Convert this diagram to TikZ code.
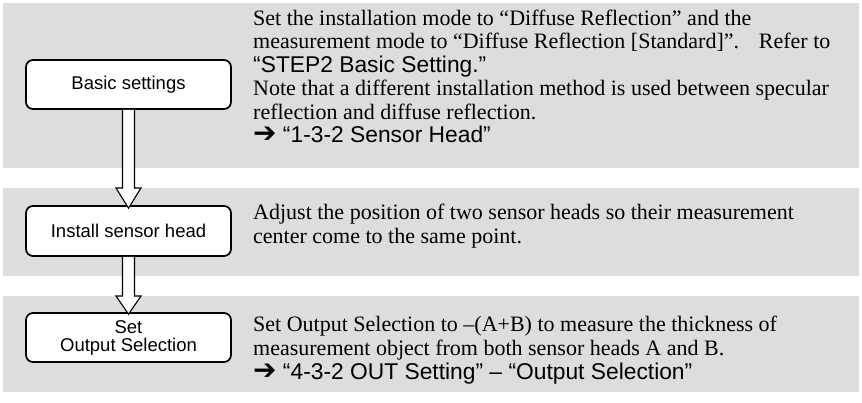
\documentclass[tikz,border=0pt]{standalone}
\usepackage{fontspec}
\setmainfont{Liberation Serif}
\newfontfamily\arialf{Liberation Sans}
\newfontfamily\symf{DejaVu Sans}
\usetikzlibrary{shapes.arrows}
\definecolor{panelgray}{RGB}{221,221,221}
\tikzset{
  panel/.style={fill=panelgray, draw=none},
  stepbox/.style={draw=black, line width=1.7pt, rounded corners=7pt, fill=white,
    minimum width=205pt, align=center, inner sep=0pt,
    font=\arialf\fontsize{18.5}{18}\selectfont},
  bodyline/.style={anchor=base west, inner sep=0pt, font=\fontsize{22}{24}\selectfont},
  refline/.style={anchor=base west, inner sep=0pt, font=\arialf\fontsize{22.8}{24}\selectfont},
  flowarrow/.style={draw=black, line width=1.1pt, fill=white, line join=miter},
}
\newcommand{\harrow}{{\symf\fontsize{28}{28}\selectfont ➔}}
\begin{document}
\begin{tikzpicture}[x=1pt,y=-1pt]
\useasboundingbox (0,0) rectangle (862,402);
% panels
\fill[panel] (3,3) rectangle (859,168);
\fill[panel] (3,188) rectangle (859,276);
\fill[panel] (3,296) rectangle (859,392);
% boxes
\node[stepbox, minimum height=49pt] (b1) at (128.5,84.5) {Basic settings};
\node[stepbox, minimum height=50pt] (b2) at (128.5,231) {Install sensor head};
\node[stepbox, minimum height=49pt] (b3) at (128.5,337.5) {Set\\Output Selection};
% block arrows
\coordinate (a1s) at (b1.south);
\coordinate (a1t) at ([yshift=-3pt]b2.north);
\draw[flowarrow] ([xshift=-6pt]a1s) -- ([xshift=-6pt]a1s |- 0,188) -- ([xshift=-12.5pt]a1s |- 0,188)
  -- (a1t) -- ([xshift=12.5pt]a1s |- 0,188) -- ([xshift=6pt]a1s |- 0,188) -- ([xshift=6pt]a1s);
\coordinate (a2s) at (b2.south);
\coordinate (a2t) at ([yshift=-2pt]b3.north);
\draw[flowarrow] ([xshift=-6pt]a2s) -- ([xshift=-6pt]a2s |- 0,296) -- ([xshift=-12.5pt]a2s |- 0,296)
  -- (a2t) -- ([xshift=12.5pt]a2s |- 0,296) -- ([xshift=6pt]a2s |- 0,296) -- ([xshift=6pt]a2s);
% panel 1 text
\node[bodyline] (t11) at (253,25) {Set the installation mode to “Diffuse Reflection” and the};
\node[bodyline] (t12) at (253,48.5) {measurement mode to “Diffuse Reflection [Standard]”.\hspace{0.9em}Refer to};
\node[refline] (t13) at (253,72) {“STEP2 Basic Setting.”};
\node[bodyline] (t14) at (253,95.5) {Note that a different installation method is used between specular};
\node[bodyline] (t15) at (253,119) {reflection and diffuse reflection.};
\node[refline] (t16) at (253,142.5) {\harrow\ “1-3-2 Sensor Head”};
% panel 2 text
\node[bodyline] (t21) at (253,219) {Adjust the position of two sensor heads so their measurement};
\node[bodyline] (t22) at (253,243) {center come to the same point.};
% panel 3 text
\node[bodyline] (t31) at (253,331) {Set Output Selection to –(A+B) to measure the thickness of};
\node[bodyline] (t32) at (253,355) {measurement object from both sensor heads A and B.};
\node[refline] (t33) at (253,379) {\harrow\ “4-3-2 OUT Setting” – “Output Selection”};
\end{tikzpicture}
\end{document}
